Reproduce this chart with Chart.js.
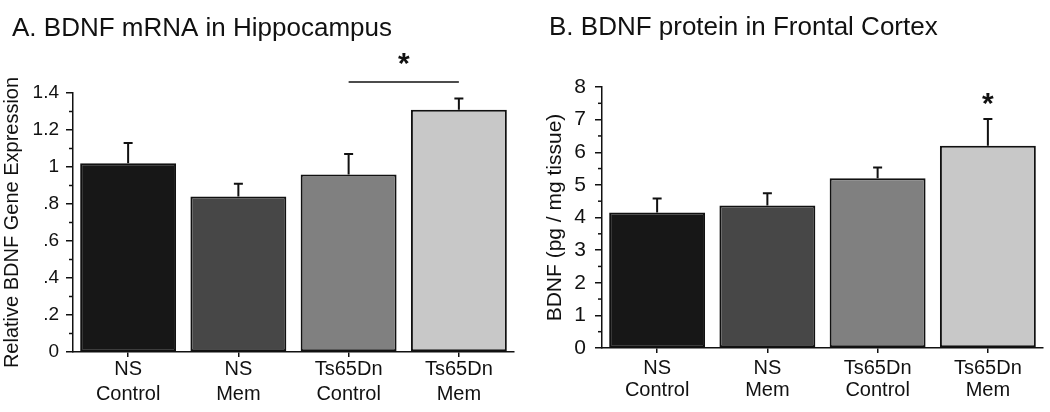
<!DOCTYPE html>
<html><head><meta charset="utf-8">
<script src="https://cdn.jsdelivr.net/npm/chart.js@4"></script>
<style>
html,body{margin:0;padding:0;background:#fff;}
#wrap{position:relative;width:1050px;height:412px;overflow:hidden;}
canvas{position:absolute;top:0;}
#cA{left:0;} #cB{left:525px;}
</style></head><body>
<div id="wrap"><canvas id="cA" width="525" height="412"></canvas><canvas id="cB" width="525" height="412"></canvas></div>
<script>
// ---- data ----
const categories = [['NS','Control'],['NS','Mem'],['Ts65Dn','Control'],['Ts65Dn','Mem']];
const barColors = ['#171717','#474747','#808080','#c8c8c8'];

const mrnaMean = [1.02, 0.84, 0.96, 1.31];
const mrnaSem  = [0.11, 0.07, 0.11, 0.06];
const mrnaTickValues = [0, 0.2, 0.4, 0.6, 0.8, 1.0, 1.2, 1.4];
const mrnaTickLabels = ['0', '.2', '.4', '.6', '.8', '1', '1.2', '1.4'];
const mrnaMinorTicks = [0.1, 0.3, 0.5, 0.7, 0.9, 1.1, 1.3];
const mrnaSig = {from: 2, to: 3, level: 1.46};

const proteinMean = [4.15, 4.37, 5.20, 6.20];
const proteinSem  = [0.43, 0.37, 0.33, 0.82];
const proteinTickValues = [0, 1, 2, 3, 4, 5, 6, 7, 8];
const proteinTickLabels = ['0','1','2','3','4','5','6','7','8'];
const proteinMinorTicks = [0.5, 1.5, 2.5, 3.5, 4.5, 5.5, 6.5, 7.5];
const proteinSig = {at: 3};

const INK = '#111';
Chart.defaults.font.family = '"Liberation Sans", Arial, Helvetica, sans-serif';
Chart.defaults.color = INK;
Chart.defaults.animation = false;

const panelPlugin = {
  id: 'panel',
  afterDatasetsDraw(chart, args, o) {
    const {ctx, scales: {x, y}, chartArea} = chart;
    const meta = chart.getDatasetMeta(0);
    ctx.save();
    // error bars
    ctx.strokeStyle = INK; ctx.lineWidth = 2;
    o.mean.forEach((m, i) => {
      const px = meta.data[i].x;
      const y0 = y.getPixelForValue(m), y1 = y.getPixelForValue(m + o.sem[i]);
      ctx.beginPath();
      ctx.moveTo(px, y0); ctx.lineTo(px, y1);
      ctx.moveTo(px - 4.5, y1); ctx.lineTo(px + 4.5, y1);
      ctx.stroke();
    });
    // minor ticks
    ctx.lineWidth = 1.5;
    const ax = chartArea.left;
    o.minor.forEach(v => {
      const py = y.getPixelForValue(v);
      ctx.beginPath(); ctx.moveTo(ax - 4, py); ctx.lineTo(ax, py); ctx.stroke();
    });
    // significance
    ctx.fillStyle = INK;
    ctx.font = 'bold 30px "Liberation Sans", Arial, sans-serif';
    ctx.textAlign = 'center'; ctx.textBaseline = 'alphabetic';
    if (o.sig.from !== undefined) {
      const xa = x.getPixelForValue(o.sig.from), xb = x.getPixelForValue(o.sig.to);
      const ly = y.getPixelForValue(o.sig.level);
      ctx.lineWidth = 1.5;
      ctx.beginPath(); ctx.moveTo(xa, ly); ctx.lineTo(xb, ly); ctx.stroke();
      ctx.fillText('*', (xa + xb) / 2, ly - 9);
    } else {
      const i = o.sig.at;
      const px = meta.data[i].x;
      const ty = y.getPixelForValue(o.mean[i] + o.sem[i]);
      ctx.fillText('*', px, ty - 6);
    }
    // panel title
    ctx.font = '26px "Liberation Sans", Arial, sans-serif';
    ctx.textAlign = 'left';
    ctx.fillText(o.title, o.titleX, o.titleY);
    ctx.restore();
  }
};

function makeChart(id, cfg) {
  return new Chart(document.getElementById(id), {
    type: 'bar',
    data: {
      labels: categories,
      datasets: [{
        data: cfg.mean,
        backgroundColor: barColors,
        borderColor: INK,
        borderWidth: 2,
        borderSkipped: false,
        barPercentage: 0.87,
        categoryPercentage: 1.0
      }]
    },
    plugins: [panelPlugin],
    options: {
      responsive: false,
      devicePixelRatio: 1,
      layout: {padding: {top: cfg.top, right: cfg.right, bottom: 0, left: 0}},
      plugins: {
        legend: {display: false},
        tooltip: {enabled: false},
        panel: {mean: cfg.mean, sem: cfg.sem, minor: cfg.minor, sig: cfg.sig,
                title: cfg.title, titleX: cfg.titleX, titleY: cfg.titleY}
      },
      scales: {
        x: {
          afterFit: s => { s.height = cfg.xHeight; },
          ticks: {font: {size: 20, lineHeight: cfg.xLine}, color: INK, padding: cfg.xPad, maxRotation: 0, autoSkip: false},
          grid: {drawOnChartArea: false, offset: false, color: INK, lineWidth: 1.5, tickLength: 5},
          border: {color: INK, width: 1.5}
        },
        y: {
          min: cfg.min, max: cfg.max,
          afterFit: s => { s.width = cfg.yWidth; },
          afterBuildTicks: s => { s.ticks = cfg.tickValues.map(v => ({value: v})); },
          ticks: {callback: (v, i) => cfg.tickLabels[i], font: {size: cfg.tickSize}, color: INK, padding: cfg.tickPad},
          grid: {drawOnChartArea: false, color: INK, lineWidth: 1.5, tickLength: 7},
          border: {color: INK, width: 1.5},
          title: {display: true, text: cfg.yTitle, font: {size: cfg.yTitleSize}, color: INK, padding: {top: cfg.yTitlePad, bottom: 0}}
        }
      }
    }
  });
}

makeChart('cA', {
  mean: mrnaMean, sem: mrnaSem, minor: mrnaMinorTicks, sig: mrnaSig,
  min: 0, max: 1.4, tickValues: mrnaTickValues, tickLabels: mrnaTickLabels,
  top: 93, right: 11, xHeight: 60, yWidth: 73, xLine: 1.25, xPad: 0,
  tickSize: 19, tickPad: 7, yTitle: 'Relative BDNF Gene Expression', yTitleSize: 20, yTitlePad: 0,
  title: 'A. BDNF mRNA in Hippocampus', titleX: 12, titleY: 36
});

makeChart('cB', {
  mean: proteinMean, sem: proteinSem, minor: proteinMinorTicks, sig: proteinSig,
  min: 0, max: 8, tickValues: proteinTickValues, tickLabels: proteinTickLabels,
  top: 87, right: 7, xHeight: 64, yWidth: 77, xLine: 1.1, xPad: 4,
  tickSize: 21, tickPad: 9, yTitle: 'BDNF (pg / mg tissue)', yTitleSize: 21, yTitlePad: 18,
  title: 'B. BDNF protein in Frontal Cortex', titleX: 24, titleY: 35
});
</script>
</body></html>
